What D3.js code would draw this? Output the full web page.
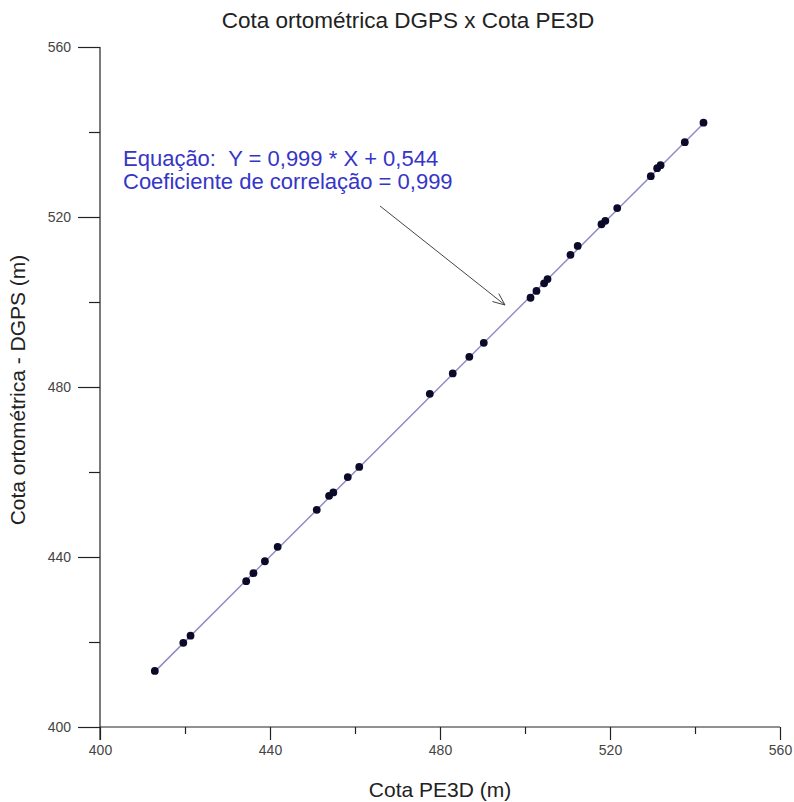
<!DOCTYPE html>
<html>
<head>
<meta charset="utf-8">
<script src="https://cdn.jsdelivr.net/npm/d3@7"></script>
<style>
  body { margin: 0; background: #fff; }
  svg text { font-family: "Liberation Sans", Arial, sans-serif; }
</style>
</head>
<body>
<svg id="chart" width="794" height="802"></svg>
<script>
// Cota PE3D (x) vs Cota ortométrica DGPS (y), metres
var pe3d = [412.9, 419.6, 421.3, 434.4, 436.1, 438.8, 441.8, 451.0, 453.9, 454.9,
            458.3, 461.0, 477.6, 483.0, 486.9, 490.3, 501.3, 502.7, 504.5, 505.3,
            510.7, 512.4, 518.0, 518.9, 521.7, 529.6, 531.1, 531.9, 537.6, 542.0];
var dgps = [413.2, 419.8, 421.5, 434.3, 436.2, 439.0, 442.4, 451.1, 454.4, 455.2,
            458.8, 461.2, 478.4, 483.2, 487.1, 490.4, 501.0, 502.6, 504.4, 505.4,
            511.1, 513.2, 518.3, 519.1, 522.1, 529.6, 531.5, 532.2, 537.6, 542.2];
var majorTicks = [400, 440, 480, 520, 560];
var minorTicks = [420, 460, 500, 540];
var slope = 0.999, intercept = 0.544;
var annotation = ["Equação:\u00a0\u00a0Y = 0,999 * X + 0,544", "Coeficiente de correlação = 0,999"];

var svg = d3.select("#chart");

var x = d3.scaleLinear().domain([400, 560]).range([100, 780]);
var y = d3.scaleLinear().domain([400, 560]).range([727, 47]);

// axes (major ticks labelled, minor ticks shorter)
var gx = svg.append("g").attr("transform", "translate(0,727)");
gx.call(d3.axisBottom(x).tickValues(majorTicks).tickSize(13).tickPadding(5).tickFormat(d3.format("d")));
gx.append("g").call(d3.axisBottom(x).tickValues(minorTicks).tickSize(7).tickFormat(""))
  .select(".domain").remove();

var gy = svg.append("g").attr("transform", "translate(100,0)");
gy.call(d3.axisLeft(y).tickValues(majorTicks).tickSize(22).tickPadding(7).tickFormat(d3.format("d")));
gy.append("g").call(d3.axisLeft(y).tickValues(minorTicks).tickSize(11).tickFormat(""))
  .select(".domain").remove();

gx.select(".domain").attr("d", "M100,0H780");
gy.select(".domain").attr("d", "M0,47V740");
svg.selectAll(".domain").attr("stroke", "#222").attr("stroke-width", 1.2);
svg.selectAll(".tick line").attr("stroke", "#222").attr("stroke-width", 1.2);
svg.selectAll(".tick text").attr("font-size", 14).attr("fill", "#444")
   .attr("font-family", "Liberation Sans, Arial, sans-serif");

// regression line
var xs = d3.extent(pe3d);
svg.append("line")
  .attr("x1", x(xs[0])).attr("y1", y(slope * xs[0] + intercept))
  .attr("x2", x(xs[1])).attr("y2", y(slope * xs[1] + intercept))
  .attr("stroke", "#8f8cc4").attr("stroke-width", 1.5);

// points
svg.selectAll("circle.pt")
  .data(pe3d)
  .enter()
  .append("circle")
  .attr("class", "pt")
  .attr("cx", function(d) { return x(d); })
  .attr("cy", function(d, i) { return y(dgps[i]); })
  .attr("r", 3.9)
  .attr("fill", "#0b0a2a");

// title + axis labels
svg.append("text").attr("x", 408).attr("y", 28).attr("text-anchor", "middle")
  .attr("font-size", 22.5).attr("fill", "#222").text("Cota ortométrica DGPS x Cota PE3D");
svg.append("text").attr("x", 440).attr("y", 797).attr("text-anchor", "middle")
  .attr("font-size", 21).attr("fill", "#222").text("Cota PE3D (m)");
svg.append("text").attr("transform", "translate(25,390) rotate(-90)").attr("text-anchor", "middle")
  .attr("font-size", 21).attr("fill", "#222").text("Cota ortométrica - DGPS (m)");

// annotation
svg.selectAll("text.note")
  .data(annotation)
  .enter()
  .append("text")
  .attr("class", "note")
  .attr("x", 123)
  .attr("y", function(d, i) { return 166 + i * 23; })
  .attr("font-size", 22)
  .attr("fill", "#3535c8")
  .text(function(d) { return d; });

// arrow
var ax1 = 380, ay1 = 206, ax2 = 505, ay2 = 305;
svg.append("line").attr("x1", ax1).attr("y1", ay1).attr("x2", ax2).attr("y2", ay2)
  .attr("stroke", "#444").attr("stroke-width", 1);
var ang = Math.atan2(ay2 - ay1, ax2 - ax1);
[-0.4, 0.4].forEach(function(a) {
  svg.append("line").attr("x1", ax2).attr("y1", ay2)
    .attr("x2", ax2 - 13 * Math.cos(ang + a)).attr("y2", ay2 - 13 * Math.sin(ang + a))
    .attr("stroke", "#444").attr("stroke-width", 1);
});
</script>
</body>
</html>
